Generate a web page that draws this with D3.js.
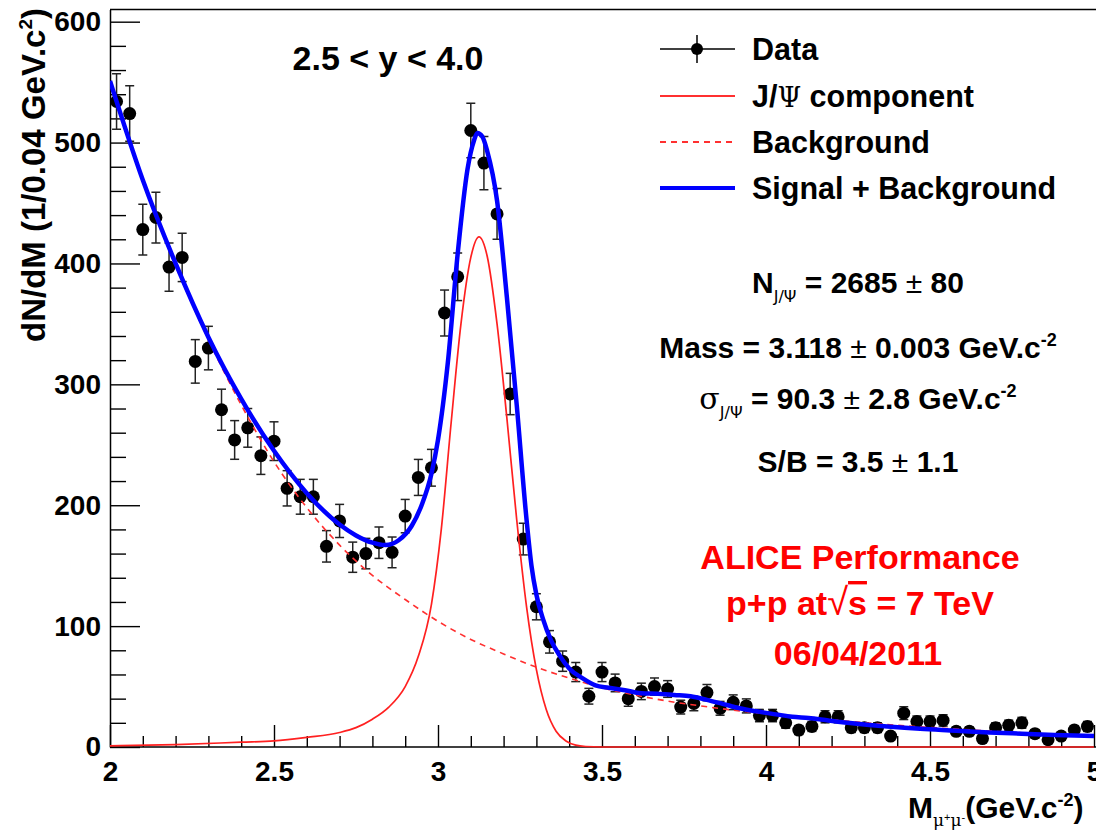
<!DOCTYPE html>
<html><head><meta charset="utf-8">
<script src="https://cdn.jsdelivr.net/npm/d3@7"></script>
<style>
body{margin:0;background:#fff}
svg{display:block}
text{font-family:"Liberation Sans",Arial,Helvetica,sans-serif;font-weight:bold;fill:#000}
</style>
</head><body>
<svg id="c" width="1096" height="830"></svg>
<script>
// ---------- data ----------
const binCenters = [2.02,2.06,2.10,2.14,2.18,2.22,2.26,2.30,2.34,2.38,2.42,2.46,2.50,2.54,2.58,2.62,2.66,2.70,2.74,2.78,
  2.82,2.86,2.90,2.94,2.98,3.02,3.06,3.10,3.14,3.18,3.22,3.26,3.30,3.34,3.38,3.42,3.46,3.50,3.54,3.58,
  3.62,3.66,3.70,3.74,3.78,3.82,3.86,3.90,3.94,3.98,4.02,4.06,4.10,4.14,4.18,4.22,4.26,4.30,4.34,4.38,
  4.42,4.46,4.50,4.54,4.58,4.62,4.66,4.70,4.74,4.78,4.82,4.86,4.90,4.94,4.98];
const counts = [534,524,428,438,397,405,319,330,279,254,264,241,253,214,207,207,166,187,157,160,
  169,161,191,223,231,359,389,510,483,441,292,172,116,87,71,62,42,62,53,40,
  46,50,48,33,36,45,32,37,34,26,26,20,14,17,25,25,16,16,16,9,
  28,21,21,22,13,13,7,16,18,20,11,6,9,14,17];
const errors = [23,23,21,21,20,20,18,18,17,16,16,15.5,16,14.6,14.4,14.4,13,13.7,12.5,12.6,
  13,12.7,13.8,14.9,15.2,19,19.7,22.6,22,21,17.1,13.1,10.8,9.3,8.4,7.9,6.5,7.9,7.3,6.3,
  6.8,7.1,6.9,5.7,6,6.7,5.7,6.1,5.8,5.1,5.1,4.5,3.7,4.1,5,5,4,4,4,3,
  5.3,4.6,4.6,4.7,3.6,3.6,2.6,4,4.2,4.5,3.3,2.4,3,3.7,4.1];

// background fit (dashed red)
const bgM = [2.0,2.1,2.2,2.3,2.4,2.5,2.6,2.7,2.8,2.9,3.0,3.1,3.2,3.3,3.4,3.5,3.6,3.7,3.8,3.9,4.0,4.2,4.4,4.6,4.8,5.0];
const bgV = [550,468,398,337,283,236,198,167,142,122,104,89,77,66,57,49,43,38,34,30.5,27.5,22.5,18,14.5,11.5,9];

// J/psi component (solid red)
const sigM = [2.0,2.2,2.4,2.5,2.6,2.7,2.75,2.8,2.85,2.9,2.94,2.98,3.01,3.04,3.07,3.10,3.125,3.15,3.18,3.21,3.24,3.27,3.30,3.33,3.36,3.39,3.42,3.45,3.5,4.0,5.0];
const sigV = [1,2,4,5,8,12,16,23,33,50,75,118,180,268,350,405,422,406,350,272,188,116,64,31,13,5,1.5,0.4,0,0,0];

// signal + background (blue)
const totM = [2.00,2.10,2.20,2.30,2.40,2.50,2.60,2.70,2.75,2.80,2.84,2.88,2.92,2.95,2.98,3.00,3.03,3.06,3.09,3.11,3.12,3.135,3.15,3.18,3.21,3.24,3.27,3.285,3.30,3.32,3.345,3.37,3.40,3.44,3.48,3.52,3.57,3.62,3.67,3.72,3.77,3.82,3.87,3.92,3.97,4.03,4.08,4.13,4.19,4.27,4.37,4.47,4.58,4.68,4.78,4.88,5.00];
const totV = [551,469,400,339,288,245,210,184,175,169,167,171,183,200,226,254,318,408,478,502,508,505,493,452,372,283,188,150,126,106,88,76,65,57,51,49,47,44.5,44,43,42,39,35.5,32,29.5,27,25,24,22,19.5,17,15,13.5,12,11,10,9];

const xMajor = [2,2.5,3,3.5,4,4.5,5];
const xMinor = [2.1,2.2,2.3,2.4,2.6,2.7,2.8,2.9,3.1,3.2,3.3,3.4,3.6,3.7,3.8,3.9,4.1,4.2,4.3,4.4,4.6,4.7,4.8,4.9];
const yMajor = [0,100,200,300,400,500,600];
const yMinor = [20,40,60,80,120,140,160,180,220,240,260,280,320,340,360,380,420,440,460,480,520,540,560,580];

const legendLabels = ["Data","J/Ψ component","Background","Signal + Background"];

// ---------- layout ----------
const svg = d3.select("#c");
const x = d3.scaleLinear().domain([2,5]).range([110,1094]);
const y = d3.scaleLinear().domain([0,610]).range([747,9.6]);
const X0 = x(2), Y0 = y(0), YT = y(610);

svg.append("defs").append("clipPath").attr("id","clip")
  .append("rect").attr("x",X0).attr("y",YT).attr("width",1100-X0).attr("height",Y0-YT+2);

// frame
svg.append("line").attr("x1",X0).attr("x2",1100).attr("y1",YT).attr("y2",YT).attr("stroke","#000").attr("stroke-width",1.5);

// axes
function styleAxis(g){
  g.select(".domain").attr("stroke","#000").attr("stroke-width",1.5);
  g.selectAll(".tick line").attr("stroke","#000").attr("stroke-width",1.4);
  g.selectAll("text").attr("font-size",28).attr("font-family","Liberation Sans, Arial, sans-serif").attr("font-weight","bold").attr("fill","#000");
}
const gy = svg.append("g").attr("transform",`translate(${X0},0)`)
  .call(d3.axisLeft(y).tickValues(yMajor).tickSize(-30).tickSizeOuter(0).tickPadding(9).tickFormat(d3.format("d")));
styleAxis(gy);
const gyMin = svg.append("g").attr("transform",`translate(${X0},0)`)
  .call(d3.axisLeft(y).tickValues(yMinor).tickSize(-16).tickSizeOuter(0).tickFormat(""));
styleAxis(gyMin); gyMin.select(".domain").remove();

const gx = svg.append("g").attr("transform",`translate(0,${Y0})`)
  .call(d3.axisBottom(x).tickValues(xMajor).tickSize(-22).tickSizeOuter(0).tickPadding(14).tickFormat(d3.format("")));
styleAxis(gx);
gx.select(".domain").attr("d",`M${X0},0H1100`);
const gxMin = svg.append("g").attr("transform",`translate(0,${Y0})`)
  .call(d3.axisBottom(x).tickValues(xMinor).tickSize(-11).tickSizeOuter(0).tickFormat(""));
styleAxis(gxMin); gxMin.select(".domain").remove();

// axis titles
const yt = svg.append("text").attr("transform",`translate(45,8) rotate(-90)`)
  .attr("text-anchor","end").attr("font-size",33);
yt.append("tspan").text("dN/dM (1/0.04 GeV.c");
yt.append("tspan").attr("font-size",19).attr("dy",-13).text("2");
yt.append("tspan").attr("dy",13).text(")");

const xt = svg.append("text").attr("x",908).attr("y",818).attr("font-size",30);
xt.append("tspan").text("M");
xt.append("tspan").attr("font-size",17).attr("font-weight","normal").attr("font-family","DejaVu Serif, serif").attr("dy",8).text("μ");
xt.append("tspan").attr("font-size",11).attr("font-weight","normal").attr("dy",-5).text("+");
xt.append("tspan").attr("font-size",17).attr("font-weight","normal").attr("font-family","DejaVu Serif, serif").attr("dy",5).text("μ");
xt.append("tspan").attr("font-size",11).attr("font-weight","normal").attr("dy",-5).text("-");
xt.append("tspan").attr("dy",-3).text("(GeV.c");
xt.append("tspan").attr("font-size",18).attr("dy",-12).text("-2");
xt.append("tspan").attr("dy",12).text(")");

// ---------- data points ----------
const plot = svg.append("g").attr("clip-path","url(#clip)");
const pts = binCenters.map((m,i)=>({m, v:counts[i], e:errors[i]}));
const eb = plot.append("g").attr("stroke","#222").attr("stroke-width",1.5);
eb.selectAll("line.v").data(pts).join("line").attr("class","v")
  .attr("x1",d=>x(d.m)).attr("x2",d=>x(d.m)).attr("y1",d=>y(d.v-d.e)).attr("y2",d=>y(d.v+d.e));
eb.selectAll("line.t").data(pts).join("line").attr("class","t")
  .attr("x1",d=>x(d.m)-4.5).attr("x2",d=>x(d.m)+4.5).attr("y1",d=>y(d.v+d.e)).attr("y2",d=>y(d.v+d.e));
eb.selectAll("line.b").data(pts).join("line").attr("class","b")
  .attr("x1",d=>x(d.m)-4.5).attr("x2",d=>x(d.m)+4.5).attr("y1",d=>y(d.v-d.e)).attr("y2",d=>y(d.v-d.e));
plot.append("g").selectAll("circle").data(pts).join("circle")
  .attr("cx",d=>x(d.m)).attr("cy",d=>y(d.v)).attr("r",6.5).attr("fill","#000");

// ---------- curves ----------
const line = d3.line().x(d=>x(d[0])).y(d=>y(d[1])).curve(d3.curveMonotoneX);
plot.append("path").datum(bgM.map((m,i)=>[m,bgV[i]])).attr("d",line)
  .attr("fill","none").attr("stroke","#ff3030").attr("stroke-width",1.6).attr("stroke-dasharray","6,5");
plot.append("path").datum(sigM.map((m,i)=>[m,sigV[i]])).attr("d",line)
  .attr("fill","none").attr("stroke","#ff2020").attr("stroke-width",1.7);
plot.append("path").datum(totM.map((m,i)=>[m,totV[i]])).attr("d",line)
  .attr("fill","none").attr("stroke","#0000ff").attr("stroke-width",4.5);

// ---------- title ----------
svg.append("text").attr("x",388).attr("y",70).attr("text-anchor","middle").attr("font-size",34).text("2.5 < y < 4.0");

// ---------- legend ----------
const lg = svg.append("g");
const rowY = [49,96,142,188];
lg.append("line").attr("x1",660).attr("x2",735).attr("y1",rowY[0]).attr("y2",rowY[0]).attr("stroke","#000").attr("stroke-width",1.5);
lg.append("line").attr("x1",697).attr("x2",697).attr("y1",rowY[0]-14).attr("y2",rowY[0]+14).attr("stroke","#000").attr("stroke-width",1.5);
lg.append("circle").attr("cx",697).attr("cy",rowY[0]).attr("r",6).attr("fill","#000");
lg.append("line").attr("x1",660).attr("x2",735).attr("y1",rowY[1]).attr("y2",rowY[1]).attr("stroke","#ff3030").attr("stroke-width",2);
lg.append("line").attr("x1",660).attr("x2",735).attr("y1",rowY[2]).attr("y2",rowY[2]).attr("stroke","#ff3030").attr("stroke-width",2).attr("stroke-dasharray","6,5");
lg.append("line").attr("x1",660).attr("x2",735).attr("y1",rowY[3]).attr("y2",rowY[3]).attr("stroke","#0000ff").attr("stroke-width",4);
legendLabels.forEach((t,i)=>{
  const tx = lg.append("text").attr("x",752).attr("y",rowY[i]+11).attr("font-size",30.5);
  if (t.includes("Ψ")) {
    const parts = t.split("Ψ");
    tx.append("tspan").text(parts[0]);
    tx.append("tspan").attr("font-weight","normal").attr("font-family","DejaVu Serif, serif").attr("font-size",27).text("Ψ");
    tx.append("tspan").text(parts[1]);
  } else tx.text(t);
});

// ---------- fit results ----------
const cx = 858;
function pm(t){ t.append("tspan").attr("font-weight","normal").text("±"); }
let t1 = svg.append("text").attr("x",cx).attr("y",293).attr("text-anchor","middle").attr("font-size",30);
t1.append("tspan").text("N");
t1.append("tspan").attr("font-size",16).attr("font-weight","normal").attr("font-family","DejaVu Sans, sans-serif").attr("dy",9).text("J/Ψ");
t1.append("tspan").attr("dy",-9).text(" = 2685 "); pm(t1); t1.append("tspan").text(" 80");

let t2 = svg.append("text").attr("x",cx).attr("y",358).attr("text-anchor","middle").attr("font-size",30);
t2.append("tspan").text("Mass = 3.118 "); pm(t2); t2.append("tspan").text(" 0.003 GeV.c");
t2.append("tspan").attr("font-size",18).attr("dy",-12).text("-2");

let t3 = svg.append("text").attr("x",cx).attr("y",409).attr("text-anchor","middle").attr("font-size",30);
t3.append("tspan").attr("font-weight","normal").attr("font-family","DejaVu Serif, serif").text("σ");
t3.append("tspan").attr("font-size",16).attr("font-weight","normal").attr("font-family","DejaVu Sans, sans-serif").attr("dy",9).text("J/Ψ");
t3.append("tspan").attr("dy",-9).text(" = 90.3 "); pm(t3); t3.append("tspan").text(" 2.8 GeV.c");
t3.append("tspan").attr("font-size",18).attr("dy",-12).text("-2");

let t4 = svg.append("text").attr("x",cx).attr("y",472).attr("text-anchor","middle").attr("font-size",30);
t4.append("tspan").text("S/B = 3.5 "); pm(t4); t4.append("tspan").text(" 1.1");

// ---------- ALICE label ----------
const red = "#ff0000";
svg.append("text").attr("x",860).attr("y",569).attr("text-anchor","middle").attr("font-size",34).style("fill",red).text("ALICE Performance");
let p2 = svg.append("text").attr("x",860).attr("y",615).attr("text-anchor","middle").attr("font-size",34).style("fill",red);
p2.append("tspan").text("p+p at");
p2.append("tspan").attr("font-weight","normal").attr("font-size",38).style("fill",red).text("√");
p2.append("tspan").style("text-decoration","overline").style("fill",red).text("s");
p2.append("tspan").text(" = 7 TeV");
svg.append("text").attr("x",858).attr("y",665).attr("text-anchor","middle").attr("font-size",34).style("fill",red).text("06/04/2011");
</script>
</body></html>
